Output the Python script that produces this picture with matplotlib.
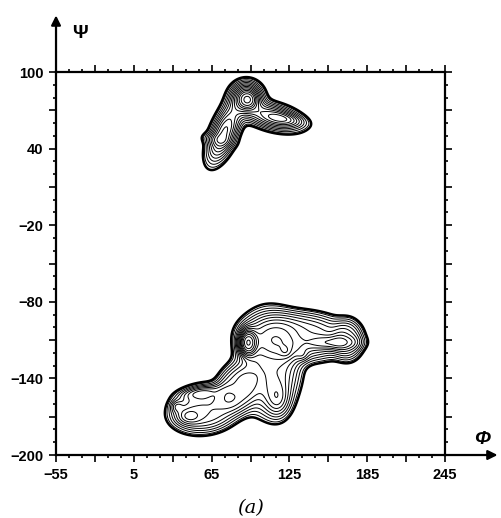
import numpy as np
import matplotlib
matplotlib.use("Agg")
import matplotlib.pyplot as plt

# axis ranges and ticks (degrees)
phi_range = (-55, 245)
psi_range = (-200, 100)
phi_labels = [-55, 5, 65, 125, 185, 245]
psi_labels = [-200, -140, -80, -20, 40, 100]

# density pieces:
# centre phi, centre psi, width along, width across, angle, height, sharpness
# (sharpness > 1 = flat-topped region with a steep edge, 1 = rounded peak)
peak_phi = [92, 75, 112, 93, 122, 69,
            132, 109, 60, 84, 170,
            93, 159, 122, 135, 116, 56, 47, 38]
peak_psi = [80, 53, 65, 78, 63, 47,
            -107, -128, -164, -148, -110,
            -112, -112, -119, -122, -157, -151, -170, -162]
peak_sa = [7, 15, 14, 4, 9, 3,
           27, 16, 18, 10, 8,
           4, 12, 3, 3, 6, 10, 6, 3]
peak_sb = [7, 6, 6, 4, 3, 8,
           12.5, 26, 12, 12, 11,
           6, 3.5, 3, 3, 9, 3, 4, 3]
peak_ang = [0, 68, -15, 0, -10, 80,
            -3, 0, 10, 0, 0,
            0, 0, 0, 0, 0, 8, 0, 0]
peak_amp = [1.0, 0.75, 0.65, 0.5, 0.25, 0.15,
            0.5, 0.5, 0.5, 0.4, 0.3,
            1.4, 0.35, 0.15, 0.12, 0.3, 0.25, 0.25, 0.2]
peak_pow = [1, 1, 1, 1, 1, 1,
            1.5, 1.5, 1.5, 1.5, 1.5,
            1, 1, 1, 1, 1, 1, 1, 1]

# contour levels
levels = [0.08, 0.11, 0.15, 0.2, 0.26, 0.33, 0.41, 0.5, 0.6, 0.72, 0.85,
          1.0, 1.2, 1.45, 1.75, 2.1]


def density(x, y):
    z = np.zeros_like(x)
    for x0, y0, sa, sb, ang, amp, p in zip(peak_phi, peak_psi, peak_sa, peak_sb,
                                            peak_ang, peak_amp, peak_pow):
        t = np.deg2rad(ang)
        u = (x - x0) * np.cos(t) + (y - y0) * np.sin(t)
        v = -(x - x0) * np.sin(t) + (y - y0) * np.cos(t)
        q = u**2 / (2 * sa**2) + v**2 / (2 * sb**2)
        z += amp * np.exp(-q**p)
    return z


plt.rcParams['font.family'] = ['Liberation Sans', 'DejaVu Sans']

fig = plt.figure(figsize=(5.02, 5.18), dpi=100)
ax = fig.add_axes([0.1116, 0.1216, 0.775, 0.7394])

xx, yy = np.meshgrid(np.linspace(*phi_range, 700), np.linspace(*psi_range, 700))
zz = density(xx, yy)
ax.contour(xx, yy, zz, levels=levels, colors='black', linewidths=0.7)
ax.contour(xx, yy, zz, levels=levels[:1], colors='black', linewidths=1.8)

ax.set_xlim(*phi_range)
ax.set_ylim(*psi_range)

xt = np.arange(-55, 246, 30)
yt = np.arange(-200, 101, 30)
ax.set_xticks(xt)
ax.set_xticks(np.arange(-55, 246, 10), minor=True)
ax.set_yticks(yt)
ax.set_yticks(np.arange(-200, 101, 10), minor=True)
ax.set_xticklabels([str(v).replace('-', '\u2212') if v in phi_labels else '' for v in xt])
ax.set_yticklabels([str(v).replace('-', '\u2212') if v in psi_labels else '' for v in yt])
ax.tick_params(which='both', direction='out', top=True, right=True, width=1.2,
               labelsize=10.5, pad=4)
for lab in ax.get_xticklabels() + ax.get_yticklabels():
    lab.set_fontweight('bold')
ax.tick_params(which='major', length=5)
ax.tick_params(which='minor', length=2.5)
for s in ax.spines.values():
    s.set_linewidth(1.6)

# axis arrows
ax.annotate('', xy=(0, 1.155), xytext=(0, 0.99), xycoords='axes fraction',
            arrowprops=dict(arrowstyle='-|>', lw=1.6, color='black', mutation_scale=14))
ax.annotate('', xy=(1.142, 0), xytext=(0.99, 0), xycoords='axes fraction',
            arrowprops=dict(arrowstyle='-|>', lw=1.6, color='black', mutation_scale=14))
ax.text(0.062, 1.10, '\u03a8', transform=ax.transAxes, fontsize=14, ha='center', va='center',
        fontweight='bold')
ax.text(1.095, 0.04, '\u03a6', transform=ax.transAxes, fontsize=14, ha='center', va='center',
        style='italic', fontweight='bold')
fig.text(0.5, 0.019, '(a)', fontsize=14, style='italic', family='DejaVu Serif',
         ha='center', va='center')

fig.savefig('out.png', dpi=100)
